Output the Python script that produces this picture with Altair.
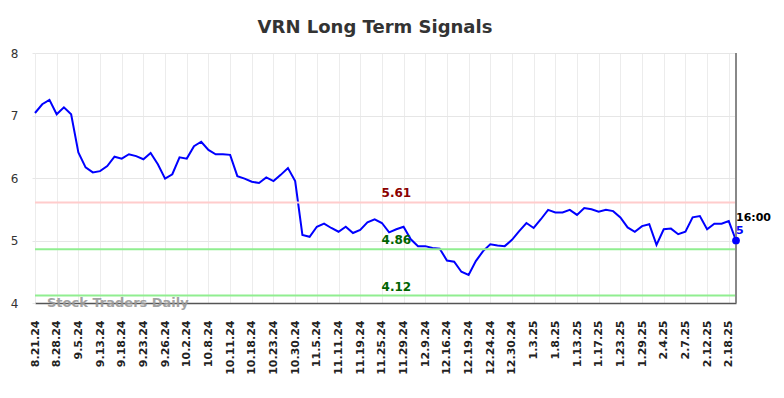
import json
import altair as alt
import pandas as pd

title_text = "VRN Long Term Signals"
tick_labels = ["8.21.24", "8.28.24", "9.5.24", "9.13.24", "9.18.24", "9.23.24", "9.26.24",
               "10.2.24", "10.8.24", "10.11.24", "10.18.24", "10.23.24", "10.30.24", "11.5.24",
               "11.11.24", "11.19.24", "11.25.24", "11.29.24", "12.9.24", "12.16.24", "12.19.24",
               "12.24.24", "12.30.24", "1.3.25", "1.8.25", "1.13.25", "1.17.25", "1.23.25",
               "1.29.25", "2.4.25", "2.7.25", "2.12.25", "2.18.25"]
values = [7.04, 7.18, 7.25, 7.02, 7.13, 7.02, 6.41, 6.17, 6.09, 6.11,
          6.19, 6.34, 6.31, 6.38, 6.35, 6.30, 6.40, 6.22, 5.99, 6.06,
          6.33, 6.31, 6.51, 6.58, 6.45, 6.38, 6.38, 6.37, 6.03, 5.99,
          5.94, 5.92, 6.01, 5.95, 6.05, 6.16, 5.95, 5.09, 5.06, 5.22,
          5.27, 5.20, 5.14, 5.22, 5.12, 5.17, 5.29, 5.34, 5.28, 5.13,
          5.18, 5.22, 5.02, 4.91, 4.91, 4.88, 4.87, 4.68, 4.66, 4.50,
          4.45, 4.67, 4.83, 4.94, 4.92, 4.91, 5.01, 5.15, 5.28, 5.20,
          5.34, 5.49, 5.45, 5.45, 5.49, 5.41, 5.52, 5.50, 5.46, 5.49,
          5.47, 5.37, 5.21, 5.14, 5.23, 5.26, 4.93, 5.18, 5.19, 5.10,
          5.14, 5.37, 5.39, 5.18, 5.27, 5.27, 5.31, 5.00]
level_values = [5.61, 4.86, 4.12]
level_line_colors = ["#ffcccc", "#90ee90", "#90ee90"]
level_text_colors = ["#8b0000", "#006400", "#006400"]
last_time = "16:00"
watermark = "Stock Traders Daily"

n = len(values)
step = 3
df = pd.DataFrame({"i": list(range(n)), "v": values})
last = df.iloc[[n - 1]].copy()
last["t"] = last_time
last["lab"] = f"{values[-1]:g}"
levels = pd.DataFrame({
    "v": level_values,
    "label": [f"{v:.2f}" for v in level_values],
    "lc": level_line_colors,
    "tc": level_text_colors,
})

tick_idx = [step * k for k in range(len(tick_labels))]
label_expr = "%s[round(datum.value / %d)]" % (json.dumps(tick_labels), step)

xscale = alt.Scale(domain=[0, n - 1], nice=False, zero=False)
yscale = alt.Scale(domain=[4, 8], nice=False, zero=False)

x_axis = alt.Axis(values=tick_idx, tickCount=len(tick_idx), labelExpr=label_expr, labelAngle=-90,
                  title=None, ticks=False, labelPadding=17, labelFontSize=11, labelFontWeight="bold",
                  labelColor="#222", labelFont="DejaVu Sans", grid=True, gridColor="#ececec",
                  gridWidth=1, domainColor="#555", domainWidth=1.5, labelOverlap=False)
y_axis = alt.Axis(values=[4, 5, 6, 7, 8], title=None, tickSize=3, tickColor="#e6e6e6",
                  labelPadding=14, labelFontSize=12, labelColor="#333", labelFont="DejaVu Sans",
                  grid=True, gridColor="#e6e6e6", domain=False)

X = alt.X("i:Q", scale=xscale, axis=x_axis)
Y = alt.Y("v:Q", scale=yscale, axis=y_axis)

line = alt.Chart(df).mark_line(color="#0000ff", strokeWidth=2).encode(x=X, y=Y)

rules = alt.Chart(levels).mark_rule(strokeWidth=2).encode(
    y=Y, color=alt.Color("lc:N", scale=None))

level_text = alt.Chart(levels).mark_text(
    fontSize=12, fontWeight="bold", font="DejaVu Sans", dy=-9, align="center"
).encode(x=alt.datum(50), y=Y, text="label:N", color=alt.Color("tc:N", scale=None))

right_rule = alt.Chart(last).mark_rule(color="#888", strokeWidth=2).encode(x=X)

dot = alt.Chart(last).mark_circle(color="#0000ff", size=60, opacity=1).encode(x=X, y=Y)

time_text = alt.Chart(last).mark_text(
    align="left", fontSize=11, fontWeight="bold", font="DejaVu Sans", color="#000", dy=-23, dx=0
).encode(x=X, y=Y, text="t:N")

val_text = alt.Chart(last).mark_text(
    align="left", fontSize=11, fontWeight="bold", font="DejaVu Sans", color="#0000ff", dy=-10, dx=0
).encode(x=X, y=Y, text="lab:N")

wm = alt.Chart(df.iloc[[0]]).mark_text(
    align="left", baseline="alphabetic", fontSize=13, fontWeight="bold", font="DejaVu Sans",
    color="#999", opacity=0.9
).encode(x=alt.value(12), y=alt.value(254), text=alt.value(watermark))

title_mark = alt.Chart(df.iloc[[0]]).mark_text(
    align="center", baseline="alphabetic", fontSize=18, fontWeight="bold", font="DejaVu Sans",
    color="#333"
).encode(x=alt.value(340), y=alt.value(-20), text=alt.value(title_text))

chart = alt.layer(line, rules, level_text, right_rule, dot, time_text, val_text, wm, title_mark).properties(
    width=701, height=250,
    autosize=alt.AutoSizeParams(type="none"),
    padding={"left": 27, "top": 45, "right": 40, "bottom": 87},
).configure_view(stroke=None)

chart.save("out.html", embed_options={"renderer": "svg", "actions": False})
